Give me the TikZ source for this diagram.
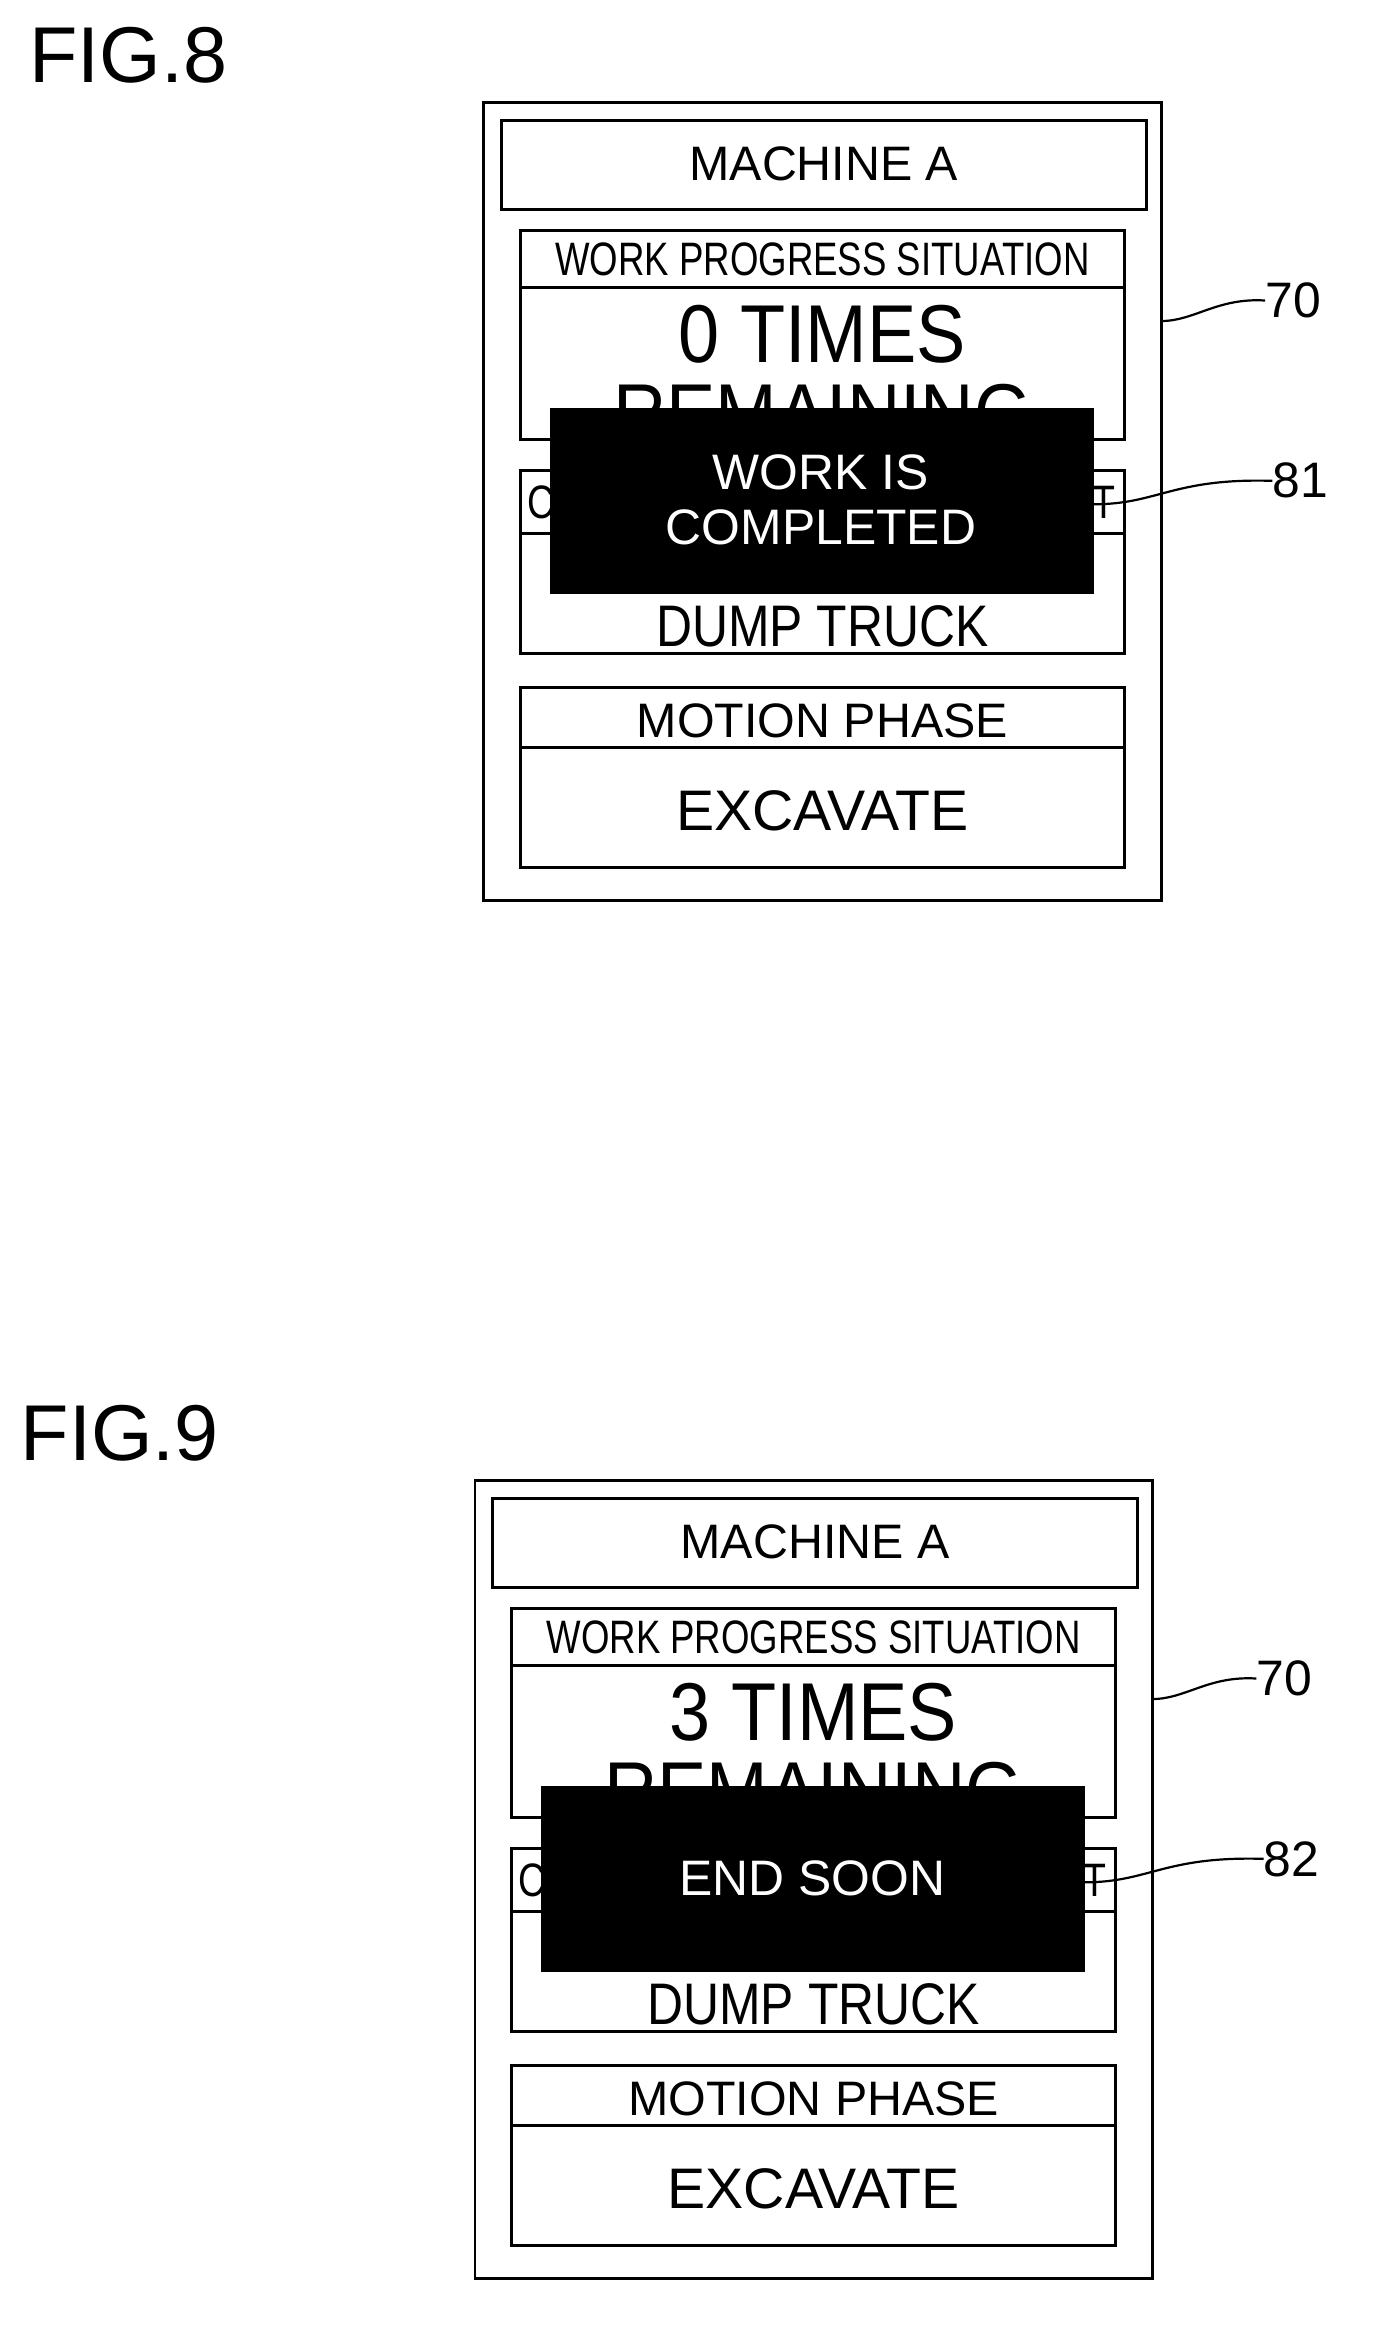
\documentclass[tikz,border=0pt]{standalone}
\usepackage{fontspec}
\setmainfont{Liberation Sans}
\usetikzlibrary{positioning}
\newcommand{\fs}[1]{\fontsize{#1}{#1}\selectfont}
\newcommand{\narrow}[2]{\scalebox{#1}[1]{#2}}
\tikzset{
  frame/.style={draw,line width=2pt},
  txt/.style={inner sep=0pt,anchor=center},
  leader/.style={line width=1.5pt},
}
% one screen of the display, shifted by (#1,#2)
\newcommand{\screen}[7]{%
  \begin{scope}[shift={(#1,#2)}]
    \node[txt,anchor=west] (fig#3) at (20,38) {\fs{54}FIG.#3};
    \draw[frame] (330,70) rectangle (792,614);
    \draw[frame] (342,82) rectangle (782,143);
    \node[txt] (mach#3) at (562,112) {\fs{33}MACHINE A};
    % work progress
    \draw[frame] (355,157) rectangle (767,196);
    \node[txt] (wps#3) at (561,177) {\fs{32}\narrow{0.78}{WORK PROGRESS SITUATION}};
    \draw[frame] (355,196) rectangle (767,300);
    \node[txt] (times#3) at (561,228) {\fs{56}\narrow{0.9}{#4 TIMES}};
    \node[txt] (rem#3) at (561,282) {\fs{56}\narrow{0.9}{REMAINING}};
    % loading target
    \draw[frame] (355,321) rectangle (767,364);
    \node[txt] (c#3) at (369,343) {\fs{32}\narrow{0.8}{C}};
    \node[txt] (t#3) at (753,343) {\fs{32}\narrow{0.8}{T}};
    \draw[frame] (355,364) rectangle (767,446);
    \node[txt] (dump#3) at (561,427) {\fs{40}\narrow{0.85}{DUMP TRUCK}};
    % motion phase
    \draw[frame] (355,469) rectangle (767,510);
    \node[txt] (mp#3) at (561,492) {\fs{33}MOTION PHASE};
    \draw[frame] (355,510) rectangle (767,592);
    \node[txt] (exc#3) at (561,553) {\fs{39}EXCAVATE};
    % message
    \fill (375,278) rectangle (746,405);
    \node[txt,text=white,align=center,font=\fs{34}] (msg#3) at (560,341) {#5};
    % reference numerals
    \node[txt,anchor=west] (n70#3) at (863,205) {\fs{34}70};
    \coordinate (e70#3) at (792,219);
    \draw[leader] (e70#3) .. controls (815,219) and (830,203) .. (n70#3.west);
    \node[txt,anchor=west] (n#6) at (868,328) {\fs{34}#6};
    \coordinate (e#6) at (#7,344);
    \draw[leader] (e#6) .. controls (790,344) and (800,326) .. (n#6.west);
  \end{scope}}
\begin{document}
\begin{tikzpicture}[x=1pt,y=-1pt]
\useasboundingbox (0,0) rectangle (940,1586);
\screen{0}{0}{8}{0}{WORK IS\\[4pt]COMPLETED}{81}{746}
\screen{-6}{940}{9}{3}{END SOON}{82}{746}
\end{tikzpicture}
\end{document}
